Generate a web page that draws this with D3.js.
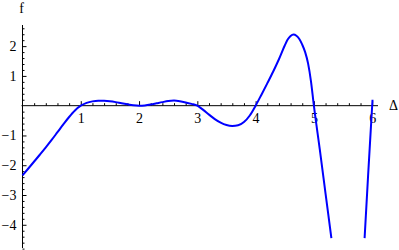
<!DOCTYPE html>
<html><head><meta charset="utf-8">
<script src="https://cdn.jsdelivr.net/npm/d3@7"></script>
<style>
html,body{margin:0;padding:0;background:#fff;}
svg{display:block;}
svg text{font-family:"Liberation Serif","Times New Roman",serif !important;}
</style></head>
<body>
<script>
// Data (null breaks the curve where it leaves the plot)
const deltaValues = [0, 0.1, 0.2, 0.3, 0.4, 0.5, 0.6, 0.7, 0.8, 0.9, 1.0, 1.1, 1.2, 1.3, 1.4, 1.5, 1.6, 1.7, 1.8, 1.9, 2.0,
  2.1, 2.2, 2.3, 2.4, 2.5, 2.6, 2.7, 2.8, 2.9, 3.0, 3.1, 3.2, 3.3, 3.4, 3.5, 3.6, 3.7, 3.8, 3.9, 4.0,
  4.1, 4.2, 4.3, 4.4, 4.5, 4.55, 4.6, 4.65, 4.7, 4.75, 4.8, 4.85, 4.9, 4.95, 5.0, 5.1, 5.2, 5.3, null, 5.87, 5.93, 6.0, 6.006];
const fValues = [-2.34, -2.11, -1.875, -1.64, -1.40, -1.15, -0.89, -0.63, -0.38, -0.16, 0.0, 0.095, 0.145, 0.165, 0.165, 0.15, 0.12, 0.08, 0.045, 0.015, 0.0,
  0.01, 0.04, 0.08, 0.12, 0.155, 0.17, 0.15, 0.11, 0.06, 0.0, -0.14, -0.30, -0.45, -0.57, -0.65, -0.68, -0.66, -0.55, -0.33, 0.0,
  0.37, 0.75, 1.14, 1.56, 2.02, 2.22, 2.34, 2.39, 2.35, 2.24, 2.05, 1.80, 1.42, 0.82, 0.0, -1.45, -2.95, -4.45, null, -4.45, -2.35, 0.0, 0.2];
const xTickLabels = [1, 2, 3, 4, 5, 6];
const yTickLabels = [-4, -3, -2, -1, 1, 2];
const xAxisTitle = "Δ";
const yAxisTitle = "f";

const W = 399, H = 250;
const FONT = '"Liberation Serif","Times New Roman",serif';
const svg = d3.select("body").append("svg").attr("width", W).attr("height", H);

const x = d3.scaleLinear().domain([0, 6.1]).range([22.5, 378]);
const y = d3.scaleLinear().domain([-4.78, 2.71]).range([248, 25]);

const minorX = d3.range(1, 31).map(i => i * 0.2).filter(v => Math.abs(v - Math.round(v)) > 1e-6);
const minorY = d3.range(-24, 14).map(i => i * 0.2).filter(v => Math.abs(v - Math.round(v)) > 1e-6);

const fmt = v => (v < 0 ? "\u2212" + Math.abs(v) : String(v));

// X axis
const gx = svg.append("g").attr("transform", `translate(0,${y(0)})`);
gx.append("g").call(d3.axisBottom(x).tickValues(minorX).tickSize(-2.5).tickFormat("").tickSizeOuter(0))
  .call(g => g.select(".domain").remove());
gx.append("g").call(d3.axisBottom(x).tickValues(xTickLabels).tickSize(-4.5).tickPadding(7).tickFormat(fmt).tickSizeOuter(0))
  .call(g => g.select(".domain").remove());
gx.append("line").attr("x1", x(0) - 1).attr("x2", x(6.1)).attr("stroke", "#000").attr("stroke-width", 1);
gx.selectAll("g").attr("font-family", FONT);
gx.selectAll("text").attr("font-size", 14).attr("fill", "#000").style("font-family", FONT);

// Y axis
const gy = svg.append("g").attr("transform", `translate(${x(0)},0)`);
gy.append("g").call(d3.axisLeft(y).tickValues(minorY).tickSize(-2).tickFormat("").tickSizeOuter(0))
  .call(g => g.select(".domain").remove());
gy.append("g").call(d3.axisLeft(y).tickValues(yTickLabels).tickSize(-4).tickPadding(6).tickFormat(fmt).tickSizeOuter(0))
  .call(g => g.select(".domain").remove());
gy.append("line").attr("y1", y(2.71)).attr("y2", y(-4.78)).attr("stroke", "#000").attr("stroke-width", 1);
gy.selectAll("g").attr("font-family", FONT);
gy.selectAll("text").attr("font-size", 14).attr("fill", "#000").style("font-family", FONT);

// Curve
const pts = deltaValues.map((d, i) => ({d, f: fValues[i]}));
const line = d3.line().defined(p => p.d != null).x(p => x(p.d)).y(p => y(p.f)).curve(d3.curveMonotoneX);
svg.append("path").datum(pts).attr("d", line).attr("fill", "none").attr("stroke", "#0000ff").attr("stroke-width", 2);

// Axis titles
svg.append("text").attr("x", 21.5).attr("y", 13).attr("text-anchor", "middle").attr("font-size", 14).style("font-family", FONT).text(yAxisTitle);
svg.append("text").attr("x", 389).attr("y", 110).attr("font-size", 14).style("font-family", FONT).text(xAxisTitle);
</script>
</body></html>
